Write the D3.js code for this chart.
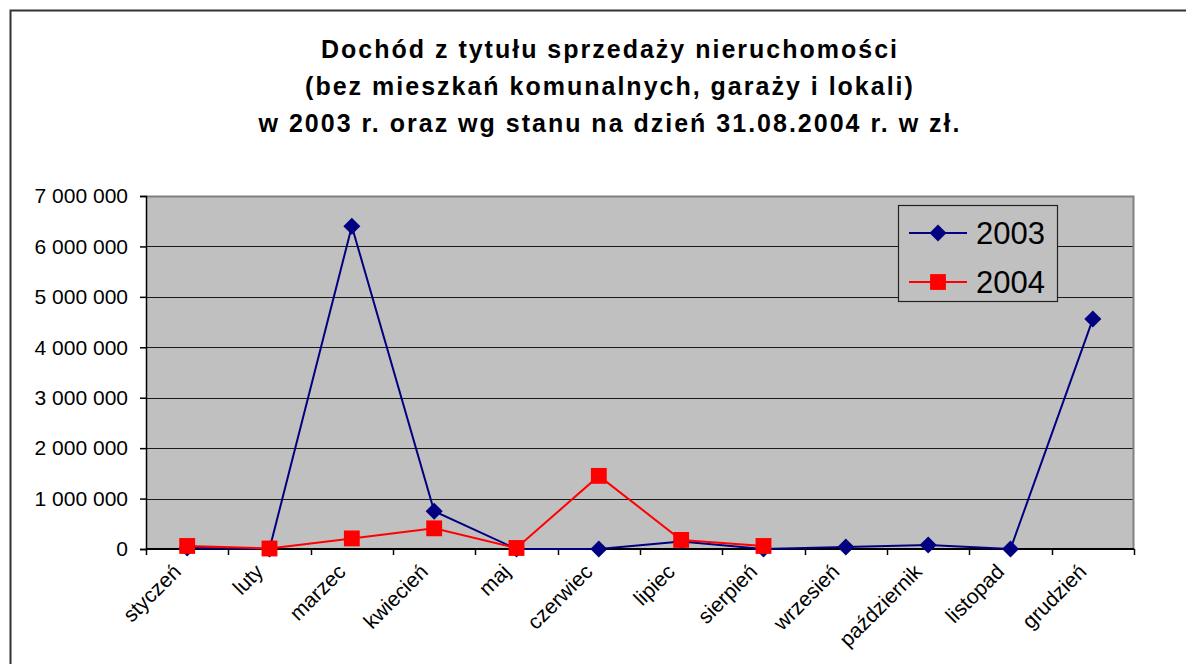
<!DOCTYPE html>
<html>
<head>
<meta charset="utf-8">
<script src="https://cdn.jsdelivr.net/npm/d3@7"></script>
<style>
  body { margin: 0; background: #fff; }
  svg { display: block; font-family: "Liberation Sans", Arial, sans-serif; }
</style>
</head>
<body>
<svg id="chart" width="1186" height="664"></svg>
<script>
const months = ['styczeń', 'luty', 'marzec', 'kwiecień', 'maj', 'czerwiec', 'lipiec', 'sierpień', 'wrzesień', 'październik', 'listopad', 'grudzień'];
const values2003 = [20000, 0, 6400000, 750000, 0, 0, 150000, 0, 40000, 80000, 0, 4560000];
const values2004 = [60000, 10000, 210000, 410000, 20000, 1450000, 180000, 60000];
const yTicks = [0, 1000000, 2000000, 3000000, 4000000, 5000000, 6000000, 7000000];
const titleLines = [
  'Dochód z tytułu sprzedaży nieruchomości',
  '(bez mieszkań komunalnych, garaży i lokali)',
  'w 2003 r. oraz wg stanu na dzień 31.08.2004 r. w zł.'
];

const svg = d3.select('#chart');
const plot = { left: 146, right: 1134, top: 196, bottom: 549 };

// outer chart frame (runs off the window on the right and bottom)
svg.append('rect')
   .attr('x', 10.5).attr('y', 10.5)
   .attr('width', 1300).attr('height', 700)
   .attr('fill', '#fff')
   .attr('stroke', '#333').attr('stroke-width', 2);

svg.append('g').selectAll('text')
   .data(titleLines)
   .enter()
   .append('text')
   .attr('x', 610)
   .attr('y', (d, i) => 58 + i * 37)
   .attr('text-anchor', 'middle')
   .attr('font-size', '25px')
   .attr('font-weight', 'bold')
   .attr('letter-spacing', '2px')
   .text(d => d);

const x = d3.scaleBand().domain(months).range([plot.left, plot.right]).padding(0);
const y = d3.scaleLinear().domain([0, 7000000]).range([plot.bottom, plot.top]);
const cx = m => x(m) + x.bandwidth() / 2;

// plot background
svg.append('rect')
   .attr('x', plot.left).attr('y', plot.top)
   .attr('width', plot.right - plot.left).attr('height', plot.bottom - plot.top)
   .attr('fill', '#c0c0c0');

// gridlines
svg.append('g').selectAll('line')
   .data(yTicks.slice(1))
   .enter()
   .append('line')
   .attr('x1', plot.left).attr('x2', plot.right)
   .attr('y1', d => Math.round(y(d)) + 0.5).attr('y2', d => Math.round(y(d)) + 0.5)
   .attr('stroke', '#1a1a1a').attr('stroke-width', 1.2);

// plot border top/right
svg.append('path')
   .attr('d', `M${plot.left},${plot.top + 0.5}H${plot.right - 0.5}V${plot.bottom}`)
   .attr('fill', 'none').attr('stroke', '#808080').attr('stroke-width', 2);

// y axis
const yAxis = d3.axisLeft(y)
  .tickValues(yTicks)
  .tickSize(6)
  .tickPadding(12)
  .tickFormat(d => d3.format(',')(d).replace(/,/g, ' '));
const gy = svg.append('g').attr('transform', `translate(${plot.left},0)`).call(yAxis);
gy.select('.domain').attr('stroke', '#000').attr('stroke-width', 1.5);
gy.selectAll('.tick line').attr('stroke', '#000').attr('stroke-width', 1.5);
gy.selectAll('.tick text').attr('font-size', '21px').attr('fill', '#000').attr('font-family', '"Liberation Sans", Arial, sans-serif');

// x axis: ticks on band edges
const edges = months.map(m => x(m)).concat([plot.right]);
svg.append('line')
   .attr('x1', plot.left).attr('x2', plot.right)
   .attr('y1', plot.bottom).attr('y2', plot.bottom)
   .attr('stroke', '#000').attr('stroke-width', 2);
svg.append('g').selectAll('line')
   .data(edges)
   .enter()
   .append('line')
   .attr('x1', d => Math.round(d) + 0.5).attr('x2', d => Math.round(d) + 0.5)
   .attr('y1', plot.bottom).attr('y2', plot.bottom + 6)
   .attr('stroke', '#000').attr('stroke-width', 1.5);

svg.append('g').selectAll('text')
   .data(months)
   .enter()
   .append('text')
   .attr('transform', d => `translate(${cx(d) - 5},${plot.bottom + 24}) rotate(-45)`)
   .attr('text-anchor', 'end')
   .attr('font-size', '21px')
   .attr('fill', '#000')
   .text(d => d);

// series
const line = d3.line().x(d => cx(d.m)).y(d => y(d.v));
const diamond = d3.symbol().type(d3.symbolDiamond2).size(185);
const square = d3.symbol().type(d3.symbolSquare2).size(320);

const s2003 = months.map((m, i) => ({ m, v: values2003[i] }));
const s2004 = values2004.map((v, i) => ({ m: months[i], v }));

svg.append('path').datum(s2003)
   .attr('d', line).attr('fill', 'none')
   .attr('stroke', '#000080').attr('stroke-width', 2);
svg.append('g').selectAll('path')
   .data(s2003)
   .enter()
   .append('path')
   .attr('d', diamond)
   .attr('transform', d => `translate(${cx(d.m)},${y(d.v)})`)
   .attr('fill', '#000080');

svg.append('path').datum(s2004)
   .attr('d', line).attr('fill', 'none')
   .attr('stroke', '#ff0000').attr('stroke-width', 2);
svg.append('g').selectAll('path')
   .data(s2004)
   .enter()
   .append('path')
   .attr('d', square)
   .attr('transform', d => `translate(${cx(d.m)},${y(d.v)})`)
   .attr('fill', '#ff0000');

// legend
const legend = svg.append('g').attr('transform', 'translate(898,205)');
legend.append('rect')
   .attr('x', 0.5).attr('y', 0.5)
   .attr('width', 159).attr('height', 96)
   .attr('fill', '#c0c0c0').attr('stroke', '#222').attr('stroke-width', 1.2);

const legendItems = [
  { name: '2003', color: '#000080', symbol: diamond },
  { name: '2004', color: '#ff0000', symbol: square }
];
const li = legend.selectAll('.item')
  .data(legendItems)
  .enter()
  .append('g')
  .attr('class', 'item')
  .attr('transform', (d, i) => `translate(0,${28 + i * 49})`);
li.append('line')
  .attr('x1', 11).attr('x2', 69)
  .attr('stroke', d => d.color).attr('stroke-width', 2);
li.append('path')
  .attr('d', d => d.symbol())
  .attr('transform', 'translate(40,0)')
  .attr('fill', d => d.color);
li.append('text')
  .attr('x', 78).attr('y', 11)
  .attr('font-size', '31px')
  .attr('fill', '#000')
  .text(d => d.name);
</script>
</body>
</html>
